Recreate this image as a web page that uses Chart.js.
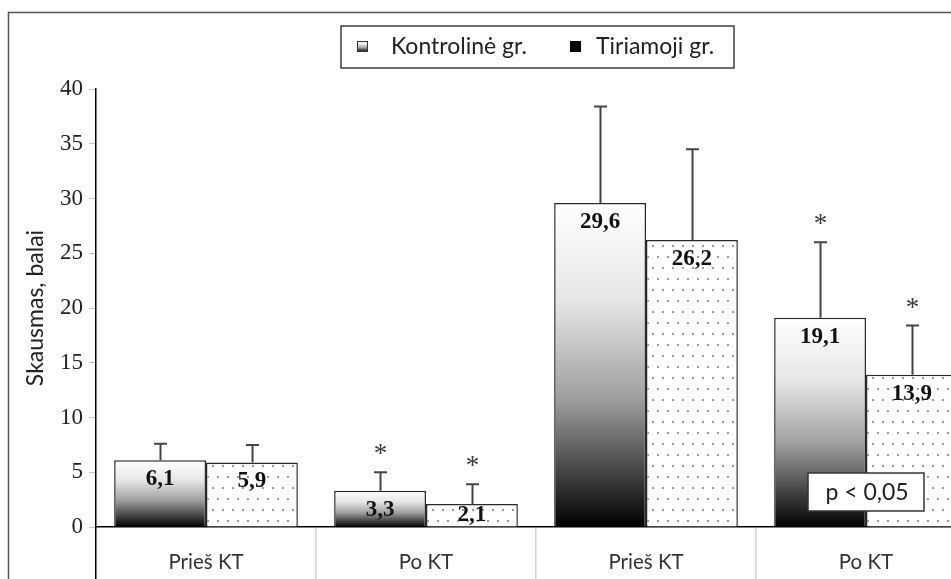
<!DOCTYPE html>
<html>
<head>
<meta charset="utf-8">
<script src="https://cdn.jsdelivr.net/npm/chart.js"></script>
<style>
  html, body { margin: 0; padding: 0; background: #fff; overflow: hidden; }
  #wrap { width: 990px; height: 579px; position: relative; }
</style>
</head>
<body>
<div id="wrap"><canvas id="painChart"></canvas></div>
<script>
const categories = ['Prieš KT', 'Po KT', 'Prieš KT', 'Po KT'];
const seriesNames = ['Kontrolinė gr.', 'Tiriamoji gr.'];
const kontrolValues = [6.1, 3.3, 29.6, 19.1];
const tiriamojiValues = [5.9, 2.1, 26.2, 13.9];
const kontrolSD = [1.5, 1.7, 8.8, 6.9];
const tiriamojiSD = [1.6, 1.8, 8.3, 4.5];
const kontrolSig = [false, true, false, true];
const tiriamojiSig = [false, true, false, true];
const yTicks = [0, 5, 10, 15, 20, 25, 30, 35, 40];
const pNote = 'p < 0,05';

const SANS = 'Lato, "Open Sans", sans-serif';
const SERIF = '"Liberation Serif", "DejaVu Serif", serif';

// dotted fill for the second group
function makeDots() {
    const c = document.createElement('canvas');
    c.width = 20; c.height = 22;
    const g = c.getContext('2d');
    g.fillStyle = '#fff';
    g.fillRect(0, 0, 20, 22);
    g.fillStyle = '#6e6e6e';
    [[3, 4], [13, 4], [8, 15], [18, 15]].forEach(p => {
        g.beginPath(); g.arc(p[0], p[1], 0.95, 0, Math.PI * 2); g.fill();
    });
    return g.createPattern(c, 'repeat');
}
const dots = makeDots();

function greyGradient(ctx, top, bottom) {
    const g = ctx.createLinearGradient(0, top, 0, bottom);
    g.addColorStop(0, '#ffffff');
    g.addColorStop(0.3, '#e6e6e6');
    g.addColorStop(0.6, '#a0a0a0');
    g.addColorStop(0.85, '#3c3c3c');
    g.addColorStop(1, '#000000');
    return g;
}

function fmt(v) {
    return v.toFixed(1).replace('.', ',');
}

const extras = {
    id: 'extras',
    afterDatasetsDraw(chart) {
        const { ctx, scales } = chart;
        const y = scales.y;
        const base = y.getPixelForValue(0);
        const sds = [kontrolSD, tiriamojiSD];
        const sigs = [kontrolSig, tiriamojiSig];

        ctx.save();
        chart.data.datasets.forEach((ds, di) => {
            const meta = chart.getDatasetMeta(di);
            meta.data.forEach((bar, i) => {
                const v = ds.data[i];
                const top = y.getPixelForValue(v);
                const errTop = y.getPixelForValue(v + sds[di][i]);
                const x = Math.round(bar.x) + 0.5;

                // error bar
                ctx.strokeStyle = '#454545';
                ctx.lineWidth = 2;
                ctx.beginPath();
                ctx.moveTo(x, top);
                ctx.lineTo(x, errTop);
                ctx.moveTo(x - 6.5, errTop);
                ctx.lineTo(x + 6.5, errTop);
                ctx.stroke();

                if (sigs[di][i]) {
                    ctx.fillStyle = '#3a3a3a';
                    ctx.font = '27px ' + SERIF;
                    ctx.textAlign = 'center';
                    ctx.textBaseline = 'middle';
                    ctx.fillText('*', x, errTop - 17);
                }

                // value label
                ctx.fillStyle = '#111';
                ctx.font = 'bold 23px ' + SERIF;
                ctx.textAlign = 'center';
                ctx.textBaseline = 'middle';
                const ly = Math.min(top + 19, base - 12);
                ctx.fillText(fmt(v), bar.x, ly);
            });
        });

        // p-value box
        const px = scales.x.getPixelForValue(3) - 2;
        const py = y.getPixelForValue(0) - 16;
        ctx.fillStyle = '#fff';
        ctx.fillRect(px - 56, py - 38, 116, 38);
        ctx.strokeStyle = '#333';
        ctx.lineWidth = 1.5;
        ctx.strokeRect(px - 56, py - 38, 116, 38);
        ctx.fillStyle = '#222';
        ctx.font = '23px ' + SANS;
        ctx.textAlign = 'center';
        ctx.textBaseline = 'middle';
        ctx.fillText(pNote, px + 3, py - 18);
        ctx.restore();
    },
    afterDraw(chart) {
        const { ctx, width, height } = chart;
        ctx.save();

        // outer frame (left and top only visible)
        ctx.strokeStyle = '#555';
        ctx.lineWidth = 1.5;
        ctx.beginPath();
        ctx.moveTo(8.5, height);
        ctx.lineTo(8.5, 12.5);
        ctx.lineTo(width, 12.5);
        ctx.stroke();

        // legend
        ctx.fillStyle = '#fff';
        ctx.fillRect(341, 26, 393, 42);
        ctx.strokeStyle = '#222';
        ctx.lineWidth = 1.3;
        ctx.strokeRect(341, 26, 393, 42);

        ctx.fillStyle = greyGradient(ctx, 41, 52);
        ctx.fillRect(357, 41, 11, 11);
        ctx.strokeStyle = '#333';
        ctx.lineWidth = 1;
        ctx.strokeRect(357.5, 41.5, 10, 10);
        ctx.fillStyle = '#000';
        ctx.fillRect(570, 41, 11, 11);

        ctx.fillStyle = '#222';
        ctx.font = '23px ' + SANS;
        ctx.textAlign = 'left';
        ctx.textBaseline = 'middle';
        ctx.fillText(seriesNames[0], 391, 47);
        ctx.fillText(seriesNames[1], 596, 47);
        ctx.restore();
    }
};

const ctx = document.getElementById('painChart').getContext('2d');
new Chart(ctx, {
    type: 'bar',
    data: {
        labels: categories,
        datasets: [{
            label: seriesNames[0],
            data: kontrolValues,
            backgroundColor: function (context) {
                const chart = context.chart;
                if (!chart.chartArea) return '#888';
                const yScale = chart.scales.y;
                return greyGradient(chart.ctx,
                    yScale.getPixelForValue(context.raw),
                    yScale.getPixelForValue(0));
            },
            borderColor: '#2a2a2a',
            borderWidth: 1.5,
            borderSkipped: 'bottom'
        }, {
            label: seriesNames[1],
            data: tiriamojiValues,
            backgroundColor: dots,
            borderColor: '#2a2a2a',
            borderWidth: 1.5,
            borderSkipped: 'bottom'
        }]
    },
    options: {
        responsive: true,
        maintainAspectRatio: false,
        animation: false,
        categoryPercentage: 0.835,
        barPercentage: 1.0,
        layout: { padding: { left: 0, top: 89, right: 14, bottom: 0 } },
        plugins: {
            legend: { display: false },
            tooltip: { enabled: false }
        },
        scales: {
            x: {
                afterFit: function (scale) { scale.height = 52; },
                grid: {
                    drawOnChartArea: false,
                    drawTicks: true,
                    tickLength: 52,
                    color: function (c) { return c.index === 0 ? '#000' : '#d4d4d4'; },
                    lineWidth: 1.5
                },
                border: { color: '#000', width: 1.5 },
                ticks: {
                    padding: -29,
                    color: '#333',
                    font: { family: SANS, size: 20.5 }
                }
            },
            y: {
                min: 0,
                max: 40,
                afterFit: function (scale) { scale.width = 96; },
                afterBuildTicks: function (scale) {
                    scale.ticks = yTicks.map(v => ({ value: v }));
                },
                grid: {
                    drawOnChartArea: false,
                    tickLength: 7,
                    color: '#c4c4c4'
                },
                border: { color: '#000', width: 1.5 },
                ticks: {
                    padding: 6,
                    color: '#222',
                    font: { family: SERIF, size: 23 }
                },
                title: {
                    display: true,
                    text: 'Skausmas, balai',
                    color: '#222',
                    font: { family: SANS, size: 23 },
                    padding: { top: 22, bottom: 0 }
                }
            }
        }
    },
    plugins: [extras]
});
</script>
</body>
</html>
